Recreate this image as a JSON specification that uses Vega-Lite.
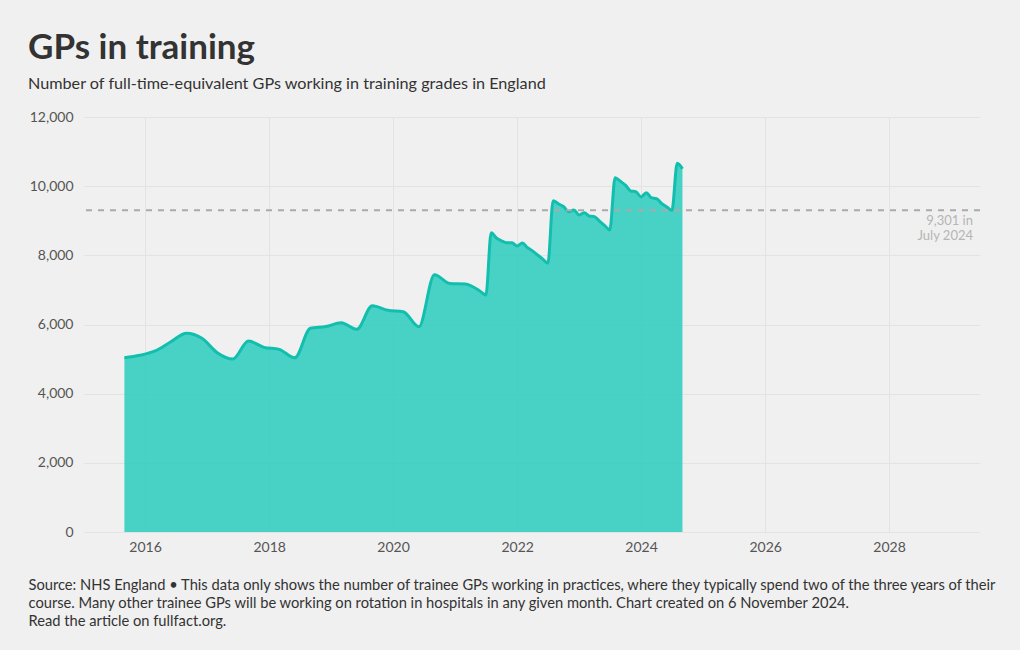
{
  "$schema": "https://vega.github.io/schema/vega-lite/v6.json",
  "width": 896,
  "height": 415,
  "autosize": {"type": "none"},
  "padding": {"left": 84, "top": 117, "right": 40, "bottom": 118},
  "background": "#f0f0f0",
  "config": {"view": {"stroke": null}, "font": "Lato"},
  "title": {
    "text": "GPs in training",
    "subtitle": "Number of full-time-equivalent GPs working in training grades in England",
    "anchor": "start",
    "frame": "group",
    "dx": -56,
    "fontSize": 35,
    "fontWeight": "bold",
    "color": "#333333",
    "subtitleFontSize": 16.2,
    "subtitleColor": "#333333",
    "subtitlePadding": 10,
    "offset": 18
  },
  "datasets": {
    "gp": [
      {"date": "2015-09-01", "value": 5040},
      {"date": "2015-12-01", "value": 5110},
      {"date": "2016-03-01", "value": 5240},
      {"date": "2016-06-01", "value": 5500},
      {"date": "2016-09-01", "value": 5750},
      {"date": "2016-12-01", "value": 5600},
      {"date": "2017-03-01", "value": 5185},
      {"date": "2017-06-01", "value": 5000},
      {"date": "2017-09-01", "value": 5520},
      {"date": "2017-12-01", "value": 5340},
      {"date": "2018-03-01", "value": 5280},
      {"date": "2018-06-01", "value": 5035},
      {"date": "2018-09-01", "value": 5890},
      {"date": "2018-12-01", "value": 5940},
      {"date": "2019-03-01", "value": 6050},
      {"date": "2019-06-01", "value": 5860},
      {"date": "2019-09-01", "value": 6545},
      {"date": "2019-12-01", "value": 6410},
      {"date": "2020-03-01", "value": 6370},
      {"date": "2020-06-01", "value": 5935},
      {"date": "2020-09-01", "value": 7440},
      {"date": "2020-12-01", "value": 7185},
      {"date": "2021-03-01", "value": 7170},
      {"date": "2021-06-01", "value": 6950},
      {"date": "2021-07-01", "value": 6850},
      {"date": "2021-08-01", "value": 8650},
      {"date": "2021-09-01", "value": 8500},
      {"date": "2021-10-01", "value": 8420},
      {"date": "2021-11-01", "value": 8366},
      {"date": "2021-12-01", "value": 8366},
      {"date": "2022-01-01", "value": 8271},
      {"date": "2022-02-01", "value": 8360},
      {"date": "2022-03-01", "value": 8230},
      {"date": "2022-04-01", "value": 8130},
      {"date": "2022-05-01", "value": 8010},
      {"date": "2022-06-01", "value": 7890},
      {"date": "2022-07-01", "value": 7770},
      {"date": "2022-08-01", "value": 9580},
      {"date": "2022-09-01", "value": 9490},
      {"date": "2022-10-01", "value": 9410},
      {"date": "2022-11-01", "value": 9263},
      {"date": "2022-12-01", "value": 9311},
      {"date": "2023-01-01", "value": 9167},
      {"date": "2023-02-01", "value": 9234},
      {"date": "2023-03-01", "value": 9138},
      {"date": "2023-04-01", "value": 9118},
      {"date": "2023-05-01", "value": 8990},
      {"date": "2023-06-01", "value": 8860},
      {"date": "2023-07-01", "value": 8733},
      {"date": "2023-08-01", "value": 10240},
      {"date": "2023-09-01", "value": 10140},
      {"date": "2023-10-01", "value": 10030},
      {"date": "2023-11-01", "value": 9860},
      {"date": "2023-12-01", "value": 9841},
      {"date": "2024-01-01", "value": 9690},
      {"date": "2024-02-01", "value": 9812},
      {"date": "2024-03-01", "value": 9667},
      {"date": "2024-04-01", "value": 9640},
      {"date": "2024-05-01", "value": 9500},
      {"date": "2024-06-01", "value": 9400},
      {"date": "2024-07-01", "value": 9301},
      {"date": "2024-08-01", "value": 10660},
      {"date": "2024-09-01", "value": 10500}
    ],
    "ref": [
      {"date": "2029-06-20", "value": 9301, "label": "9,301 in\nJuly 2024"}
    ]
  },
  "layer": [
    {
      "data": {"name": "gp"},
      "mark": {"type": "area", "interpolate": "monotone", "color": "#2acdbd", "opacity": 0.85},
      "encoding": {
        "x": {
          "field": "date",
          "type": "temporal",
          "scale": {"domain": ["2015-01-06", "2029-06-20"], "nice": false},
          "axis": {
            "title": [
              "Source: NHS England • This data only shows the number of trainee GPs working in practices, where they typically spend two of the three years of their",
              "course. Many other trainee GPs will be working on rotation in hospitals in any given month. Chart created on 6 November 2024.",
              "Read the article on fullfact.org."
            ],
            "tickCount": {"interval": "year", "step": 2},
            "format": "%Y",
            "grid": true,
            "gridColor": "#e3e3e3",
            "domain": false,
            "ticks": false,
            "labelPadding": 8,
            "labelFontSize": 14,
            "labelColor": "#555555",
            "labelFlush": false,
            "titleAnchor": "start",
            "titleAlign": "left",
            "titleX": -56,
            "titleY": 45,
            "titleBaseline": "top",
            "titleFontSize": 14.7,
            "titleFontWeight": "normal",
            "titleColor": "#333333",
            "titleLineHeight": 18
          }
        },
        "y": {
          "field": "value",
          "type": "quantitative",
          "scale": {"domain": [0, 12000], "nice": false},
          "axis": {
            "title": null,
            "values": [0, 2000, 4000, 6000, 8000, 10000, 12000],
            "format": ",.0f",
            "grid": true,
            "gridColor": "#e3e3e3",
            "domain": false,
            "ticks": false,
            "labelPadding": 11,
            "labelFontSize": 14,
            "labelColor": "#555555"
          }
        }
      }
    },
    {
      "data": {"name": "gp"},
      "mark": {"type": "line", "interpolate": "monotone", "color": "#12bead", "strokeWidth": 3},
      "encoding": {
        "x": {"field": "date", "type": "temporal"},
        "y": {"field": "value", "type": "quantitative"}
      }
    },
    {
      "data": {"name": "ref"},
      "mark": {"type": "rule", "strokeDash": [6, 6], "color": "#aaaaaa", "strokeWidth": 2},
      "encoding": {
        "y": {"field": "value", "type": "quantitative"}
      }
    },
    {
      "data": {"name": "ref"},
      "mark": {"type": "text", "align": "right", "baseline": "top", "dx": -7, "dy": 5, "lineBreak": "\n", "color": "#b5b5b5", "fontSize": 13, "lineHeight": 15},
      "encoding": {
        "x": {"field": "date", "type": "temporal"},
        "y": {"field": "value", "type": "quantitative"},
        "text": {"field": "label"}
      }
    }
  ]
}
